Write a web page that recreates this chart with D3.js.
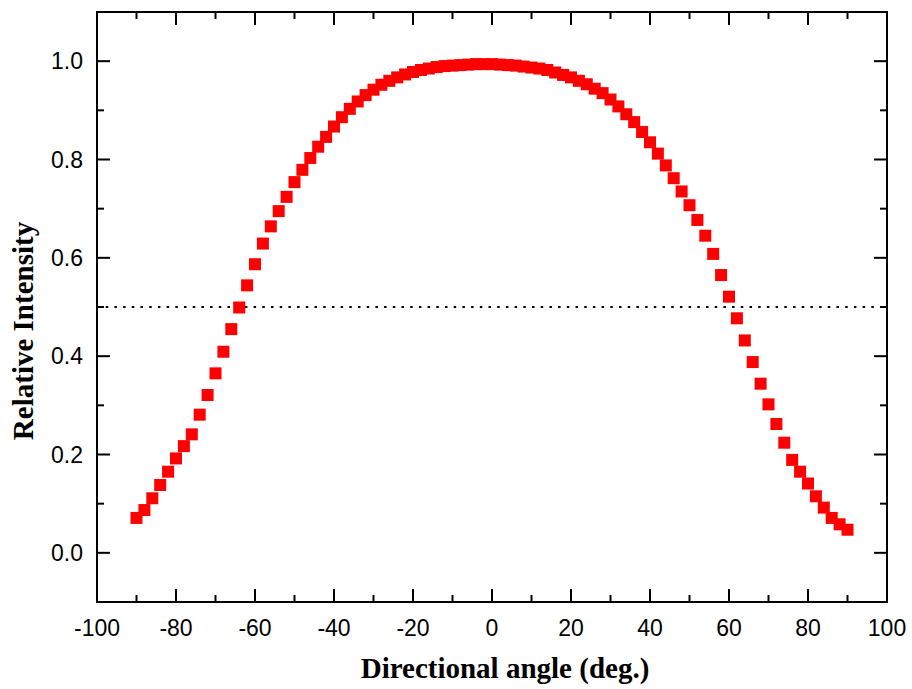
<!DOCTYPE html>
<html>
<head>
<meta charset="utf-8">
<script src="https://cdn.jsdelivr.net/npm/d3@7"></script>
<style>
  html, body { margin: 0; padding: 0; background: #fff; }
  svg { display: block; }
  .tick-label { font-family: "Liberation Sans", Arial, sans-serif; font-size: 23px; fill: #000; }
  .axis-title { font-family: "Liberation Serif", "Times New Roman", serif; font-weight: bold; font-size: 29px; fill: #000; }
</style>
</head>
<body>
<svg id="chart" width="912" height="689"></svg>
<script>
// Emission angle (degrees) and relative intensity, sampled every 2°
const angles = d3.range(-90, 91, 2);
const intensity = [
  0.071, 0.087, 0.111, 0.138, 0.165, 0.192, 0.217, 0.241, 0.281, 0.321,
  0.365, 0.409, 0.455, 0.499, 0.544, 0.587, 0.629, 0.664, 0.695, 0.724,
  0.754, 0.779, 0.803, 0.826, 0.846, 0.867, 0.886, 0.903, 0.918, 0.931,
  0.942, 0.952, 0.960, 0.967, 0.973, 0.978, 0.982, 0.985, 0.988, 0.990,
  0.991, 0.992, 0.993, 0.994, 0.994, 0.994, 0.993, 0.992, 0.991, 0.989,
  0.987, 0.985, 0.982, 0.977, 0.972, 0.967, 0.960, 0.953, 0.944, 0.935,
  0.922, 0.908, 0.892, 0.876, 0.856, 0.835, 0.812, 0.788, 0.762, 0.735,
  0.707, 0.677, 0.645, 0.608, 0.565, 0.521, 0.477, 0.432, 0.388, 0.344,
  0.302, 0.262, 0.224, 0.189, 0.165, 0.141, 0.115, 0.092, 0.071, 0.058,
  0.047
];
const xTicks = [-100, -80, -60, -40, -20, 0, 20, 40, 60, 80, 100];
const xMinorTicks = [-90, -70, -50, -30, -10, 10, 30, 50, 70, 90];
const yTicks = [0.0, 0.2, 0.4, 0.6, 0.8, 1.0];
const yMinorTicks = [-0.1, 0.1, 0.3, 0.5, 0.7, 0.9, 1.1];
const halfMax = 0.5;

const points = angles.map((a, i) => ({ angle: a, value: intensity[i] }));

const svg = d3.select("#chart");
const plotL = 97, plotR = 887, plotT = 12, plotB = 602;

const x = d3.scaleLinear().domain([-100, 100]).range([plotL, plotR]);
const y = d3.scaleLinear().domain([-0.1, 1.1]).range([plotB, plotT]);

const majorLen = 13, minorLen = 7;

// Inward ticks on all four sides
const axisGroup = svg.append("g").attr("stroke", "#000").attr("stroke-width", 2);

function ticks(sel, vals, len, side) {
  sel.append("g").selectAll("line").data(vals).enter().append("line")
    .attr("x1", d => side === "left" ? plotL : side === "right" ? plotR : x(d))
    .attr("x2", d => side === "left" ? plotL + len : side === "right" ? plotR - len : x(d))
    .attr("y1", d => side === "bottom" ? plotB : side === "top" ? plotT : y(d))
    .attr("y2", d => side === "bottom" ? plotB - len : side === "top" ? plotT + len : y(d));
}
ticks(axisGroup, xTicks, majorLen, "bottom");
ticks(axisGroup, xMinorTicks, minorLen, "bottom");
ticks(axisGroup, xTicks, majorLen, "top");
ticks(axisGroup, xMinorTicks, minorLen, "top");
ticks(axisGroup, yTicks, majorLen, "left");
ticks(axisGroup, yMinorTicks, minorLen, "left");
ticks(axisGroup, yTicks, majorLen, "right");
ticks(axisGroup, yMinorTicks, minorLen, "right");

// Half-maximum reference line
svg.append("line")
  .attr("x1", x(-100)).attr("x2", x(100))
  .attr("y1", y(halfMax)).attr("y2", y(halfMax))
  .attr("stroke", "#000").attr("stroke-width", 2)
  .attr("stroke-dasharray", "2.5,6.2");

// Data markers
const size = 12;
svg.append("g").selectAll("rect").data(points).enter().append("rect")
  .attr("x", d => x(d.angle) - size / 2)
  .attr("y", d => y(d.value) - size / 2)
  .attr("width", size).attr("height", size)
  .attr("fill", "#ff0000");

// Frame
svg.append("rect")
  .attr("x", plotL).attr("y", plotT)
  .attr("width", plotR - plotL).attr("height", plotB - plotT)
  .attr("fill", "none").attr("stroke", "#000").attr("stroke-width", 2);

// Tick labels (plain hyphen for negatives)
svg.append("g").selectAll("text").data(xTicks).enter().append("text")
  .attr("class", "tick-label")
  .attr("x", d => x(d)).attr("y", 636)
  .attr("text-anchor", "middle")
  .text(d => String(d));

svg.append("g").selectAll("text").data(yTicks).enter().append("text")
  .attr("class", "tick-label")
  .attr("x", 83).attr("y", d => y(d))
  .attr("dy", "0.36em")
  .attr("text-anchor", "end")
  .text(d => d.toFixed(1));

// Axis titles
svg.append("text").attr("class", "axis-title")
  .attr("x", 505).attr("y", 678)
  .attr("text-anchor", "middle")
  .text("Directional angle (deg.)");

svg.append("text").attr("class", "axis-title")
  .attr("transform", "translate(33,331) rotate(-90)")
  .attr("text-anchor", "middle")
  .text("Relative Intensity");
</script>
</body>
</html>
